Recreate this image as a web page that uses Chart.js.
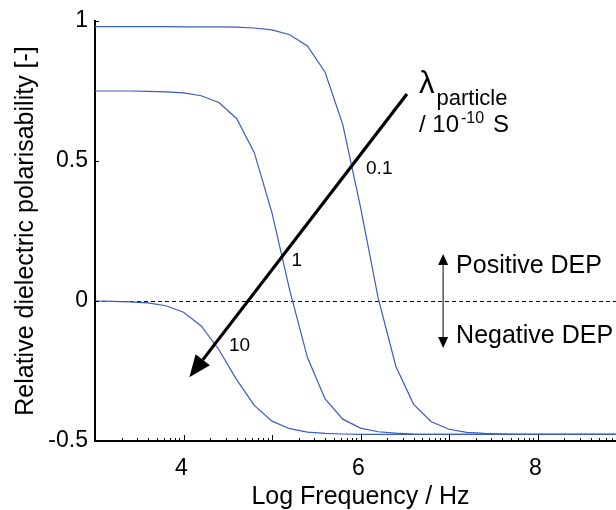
<!DOCTYPE html>
<html><head>
<meta charset="utf-8">
<title>Relative dielectric polarisability</title>
<script src="https://cdn.jsdelivr.net/npm/chart.js@4"></script>
<style>
  html, body { margin:0; padding:0; background:#fff; overflow:hidden }
  canvas { display:block }
</style>
</head><body>
<canvas id="chart" width="626" height="510"></canvas>
<script>
// log10 of frequency, one sample every 0.2 decade
const logFreq = [3.0, 3.2, 3.4, 3.6, 3.8, 4.0, 4.2, 4.4, 4.6, 4.8, 5.0, 5.2, 5.4, 5.6, 5.8, 6.0,
                 6.2, 6.4, 6.6, 6.8, 7.0, 7.2, 7.4, 7.6, 7.8, 8.0, 8.2, 8.4, 8.6, 8.8, 9.0];
// particle conductivity 0.1e-10 S
const polLambda01 = [0.980, 0.980, 0.980, 0.980, 0.980, 0.979, 0.979, 0.979, 0.978, 0.975, 0.968, 0.951, 0.911, 0.817, 0.630, 0.335,
                     0.010, -0.234, -0.369, -0.431, -0.458, -0.469, -0.473, -0.475, -0.476, -0.476, -0.476, -0.476, -0.476, -0.476, -0.476];
// particle conductivity 1e-10 S
const polLambda1 = [0.750, 0.750, 0.750, 0.749, 0.747, 0.743, 0.733, 0.709, 0.652, 0.530, 0.315, 0.039, -0.201, -0.350, -0.422, -0.454,
                    -0.467, -0.472, -0.475, -0.476, -0.476, -0.476, -0.476, -0.476, -0.476, -0.476, -0.476, -0.476, -0.476, -0.476, -0.476];
// particle conductivity 10e-10 S
const polLambda10 = [0.000, -0.001, -0.003, -0.007, -0.017, -0.040, -0.089, -0.174, -0.281, -0.373, -0.429, -0.456, -0.468, -0.473, -0.475, -0.476,
                     -0.476, -0.476, -0.476, -0.476, -0.476, -0.476, -0.476, -0.476, -0.476, -0.476, -0.476, -0.476, -0.476, -0.476, -0.476];
const curveLabels = ['0.1', '1', '10'];
const xTickLabels = [4, 6, 8];
const yTickLabels = [-0.5, 0, 0.5, 1];

const FONT = '"Liberation Sans", Arial, Helvetica, sans-serif';
const BLUE = '#3a5cc0';

function arrow(ctx, x1, y1, x2, y2, headLen, headHalf, width, shaftColor, headColor) {
  const ang = Math.atan2(y2 - y1, x2 - x1);
  const bx = x2 - headLen * Math.cos(ang), by = y2 - headLen * Math.sin(ang);
  ctx.strokeStyle = shaftColor;
  ctx.lineWidth = width;
  ctx.beginPath(); ctx.moveTo(x1, y1); ctx.lineTo(bx, by); ctx.stroke();
  ctx.fillStyle = headColor;
  ctx.beginPath();
  ctx.moveTo(x2, y2);
  ctx.lineTo(bx + headHalf * Math.sin(ang), by - headHalf * Math.cos(ang));
  ctx.lineTo(bx - headHalf * Math.sin(ang), by + headHalf * Math.cos(ang));
  ctx.closePath();
  ctx.fill();
}

const decor = {
  id: 'decor',
  beforeDatasetsDraw(chart) {
    const { ctx, chartArea: a, scales: { y } } = chart;
    // zero line between positive and negative DEP
    const y0 = Math.round(y.getPixelForValue(0)) + 0.5;
    ctx.save();
    ctx.strokeStyle = '#000';
    ctx.lineWidth = 1;
    ctx.setLineDash([4, 3]);
    ctx.beginPath(); ctx.moveTo(a.left, y0); ctx.lineTo(a.right, y0); ctx.stroke();
    ctx.restore();
  },
  afterDraw(chart) {
    const { ctx, chartArea: a, scales: { x, y } } = chart;
    const px = v => x.getPixelForValue(v), py = v => y.getPixelForValue(v);
    ctx.save();

    // inward tick marks, log-style minor ticks on x
    ctx.strokeStyle = '#000';
    ctx.lineWidth = 1;
    ctx.beginPath();
    for (let n = 3; n <= 8; n++) {
      if (n > 3) { const p = Math.round(px(n)) + 0.5; ctx.moveTo(p, a.bottom); ctx.lineTo(p, a.bottom - 6); }
      for (let k = 2; k <= 9; k++) {
        const p = Math.round(px(n + Math.log10(k))) + 0.5;
        ctx.moveTo(p, a.bottom); ctx.lineTo(p, a.bottom - 3);
      }
    }
    yTickLabels.forEach(v => {
      const p = Math.round(py(v)) + 0.5;
      ctx.moveTo(a.left, p); ctx.lineTo(a.left + 4, p);
    });
    ctx.stroke();

    // direction of increasing particle conductivity
    arrow(ctx, px(6.525), py(0.739), px(4.066), py(-0.2725), 22, 9, 3.2, '#000', '#000');

    // positive / negative DEP marker
    arrow(ctx, px(6.934), py(0), px(6.934), py(0.168), 11, 5, 1.5, '#555', '#000');
    arrow(ctx, px(6.934), py(0), px(6.934), py(-0.168), 11, 5, 1.5, '#555', '#000');

    ctx.fillStyle = '#000';
    ctx.textBaseline = 'middle';
    ctx.textAlign = 'center';
    ctx.font = '19px ' + FONT;
    ctx.fillText(curveLabels[0], px(6.212), py(0.474));
    ctx.fillText(curveLabels[1], px(5.279), py(0.145));
    ctx.fillText(curveLabels[2], px(4.633), py(-0.159));

    ctx.textAlign = 'left';
    ctx.font = '25px ' + FONT;
    ctx.fillText('Positive DEP', px(7.08), py(0.126));
    ctx.fillText('Negative DEP', px(7.08), py(-0.124));

    // lambda_particle / 10^-10 S
    ctx.textBaseline = 'alphabetic';
    ctx.font = '31px ' + FONT;
    ctx.fillText('\u03bb', px(6.661), py(0.742));
    ctx.font = '22px ' + FONT;
    ctx.fillText('particle', px(6.859), py(0.70));
    const ux = px(6.661), uy = py(0.6046);
    ctx.font = '24px ' + FONT;
    ctx.fillText('/ 10', ux, uy);
    ctx.font = '16px ' + FONT;
    ctx.fillText('-10', ux + 42, uy - 8.5);
    ctx.font = '24px ' + FONT;
    ctx.fillText('S', ux + 74, uy);

    ctx.restore();
  }
};

const series = [polLambda01, polLambda1, polLambda10];

new Chart(document.getElementById('chart'), {
  type: 'line',
  data: {
    datasets: series.map((vals, i) => ({
      label: curveLabels[i],
      data: logFreq.map((f, j) => ({ x: f, y: vals[j] })),
      borderColor: BLUE,
      borderWidth: 1.2,
      pointRadius: 0,
      tension: 0,
      fill: false
    }))
  },
  options: {
    responsive: false,
    animation: false,
    devicePixelRatio: 1,
    layout: { padding: { top: 21, right: 0, bottom: 0, left: 0 } },
    plugins: { legend: { display: false }, tooltip: { enabled: false } },
    scales: {
      x: {
        type: 'linear', min: 3, max: 9,
        afterBuildTicks: s => { s.ticks = xTickLabels.map(v => ({ value: v })); },
        afterFit: s => { s.height = 69; },
        grid: { color: 'rgba(0,0,0,0)', drawTicks: false },
        border: { color: '#000', width: 2 },
        ticks: { color: '#000', font: { family: FONT, size: 23 }, padding: 14, maxRotation: 0, labelOffset: -2,
                 callback: v => String(v) },
        title: { display: true, text: 'Log Frequency / Hz', color: '#000',
                 font: { family: FONT, size: 25, lineHeight: 1 }, padding: { top: 0, bottom: 0 } }
      },
      y: {
        type: 'linear', min: -0.5, max: 1,
        afterBuildTicks: s => { s.ticks = yTickLabels.map(v => ({ value: v })); },
        afterFit: s => { s.width = 95; },
        grid: { color: 'rgba(0,0,0,0)', drawTicks: false },
        border: { color: '#000', width: 2 },
        ticks: { color: '#000', font: { family: FONT, size: 23 }, padding: 7, callback: v => String(v) },
        title: { display: true, text: 'Relative dielectric polarisability [-]', color: '#000',
                 font: { family: FONT, size: 25, lineHeight: 1 }, padding: { top: 14, bottom: 0 } }
      }
    }
  },
  plugins: [decor]
});
</script>
</body></html>
